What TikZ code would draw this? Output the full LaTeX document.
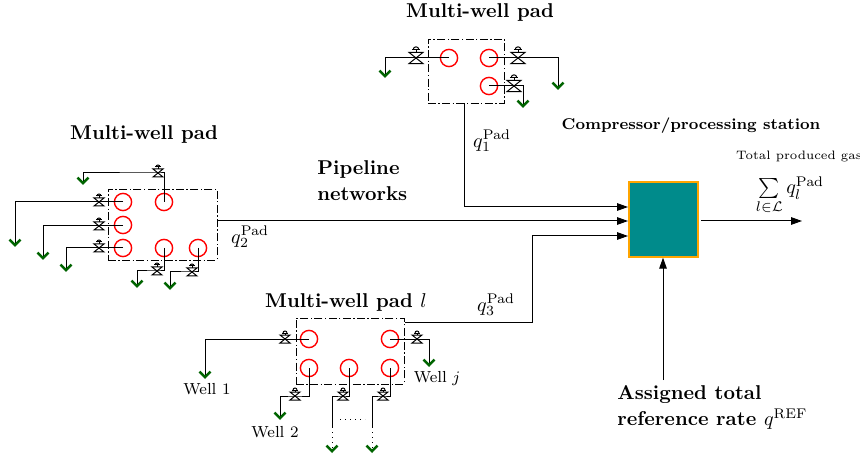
\documentclass[tikz,border=0pt]{standalone}
\usetikzlibrary{arrows.meta}
\definecolor{wellgreen}{RGB}{0,100,0}
\definecolor{stationteal}{RGB}{0,139,139}
\definecolor{stationedge}{RGB}{255,165,0}
\tikzset{
  x=0.5pt,y=-0.5pt,
  padbox/.style={draw,line width=0.45pt,dash pattern=on 4pt off 1.2pt on 0.7pt off 1.2pt,minimum width=0pt,inner sep=0pt},
  wellhead/.style={circle,draw=red,line width=0.7pt,minimum size=8.6pt,inner sep=0pt},
  pipe/.style={line width=0.5pt},
  topipe/.style={pipe,-{Straight Barb[length=2.8pt,width=5.5pt,color=wellgreen,line width=1.25pt]}},
  flow/.style={line width=0.5pt,-{Triangle[length=5.5pt,width=3.8pt]}},
  station/.style={draw=stationedge,fill=stationteal,line width=0.7pt,inner sep=0pt},
  title/.style={font=\bfseries,anchor=center,inner sep=0pt},
  small/.style={font=\fontsize{8}{9.6}\selectfont,inner sep=0pt},
  pics/valve/.style={code={
    \draw[line width=0.5pt] (-5,-4) -- (5,-4) -- (-5,4) -- (5,4) -- cycle;
    \draw[line width=0.5pt] (0,-4) -- (0,-6) (-3,-6) -- (3,-6);
    \draw[line width=0.5pt] (-2,-6) arc[start angle=180,end angle=360,radius=2];
  }}
}
\begin{document}
\begin{tikzpicture}
\useasboundingbox (0,0) rectangle (860,459);

% station
\node[station,minimum width=34.5pt,minimum height=37.5pt] (st) at (663.5,219.5) {};

% pad boxes
\node[padbox,minimum width=38pt,minimum height=32pt] (pad1) at (466,71) {};
\node[padbox,minimum width=54.5pt,minimum height=35.5pt] (pad2) at (162.5,224.5) {};
\node[padbox,minimum width=54pt,minimum height=33pt] (pad3) at (350,351) {};

% wells
\foreach \n/\x/\y in {a1/449/58,a2/489/58,a3/489/86,
  b1/123/202,b2/123/225,b3/123/248,b4/164/202,b5/164/248,b6/198/248,
  c1/309/339,c2/390/339,c3/309/368,c4/349/368,c5/390/368}
  \node[wellhead] (\n) at (\x,\y) {};

% valves and free ends
\foreach \n/\x/\y in {va1/416/58,va2/518/58,va3/514/86,
  vb1/99/202,vb2/99/226,vb3/99/248,vb4/158/173,vb5/157/271,vb6/192/272,
  vc1/285/339,vc2/417/339,vc3/295/396,vc4/343/396,vc5/383/396}
  \coordinate (\n) at (\x,\y);
\foreach \n/\x/\y in {ta1/385/78,ta2/558/90,ta3/523/108,
  tb1/15/247,tb2/43/260,tb3/66/272,tb4/83/185,tb5/137/288,tb6/170/290,
  tc1/205/379,tc2/429/367,tc3/280/420,tc4/332/453,tc5/372/453,
  dc4/332/427,dc5/372/427,dl/340/419,dr/365/419,
  j1/464/207,j3/532/236,s1/628/207,s2/628/221,s3/628/236,
  o1/701/221,o2/802/221,r1/663/380,q3s/405/322,q1s/464/103,q2s/217/221}
  \coordinate (\n) at (\x,\y);

% well lines
\draw[topipe] (a1.center) -| (ta1);
\draw[topipe] (a2.center) -| (ta2);
\draw[topipe] (a3.center) -| (ta3);
\draw[topipe] (b1.center) -| (tb1);
\draw[topipe] (b2.center) ++(0,1) -| (tb2);
\draw[topipe] (b3.center) -| (tb3);
\draw[topipe] (b4.center) |- (vb4) -| (tb4);
\draw[topipe] (b5.center) |- (vb5) -| (tb5);
\draw[topipe] (b6.center) |- (vb6) -| (tb6);
\draw[topipe] (c1.center) -| (tc1);
\draw[topipe] (c2.center) -| (tc2);
\draw[topipe] (c3.center) |- (vc3) -| (tc3);
\draw[pipe] (c4.center) |- (vc4) -| (dc4);
\draw[pipe] (c5.center) |- (vc5) -| (dc5);
\draw[topipe,dotted] (dc4) -- (tc4);
\draw[topipe,dotted] (dc5) -- (tc5);
\draw[pipe,dotted] (dl) -- (dr);

% valves
\foreach \n in {va1,va2,va3} \pic[scale=1.4] at (\n) {valve};
\foreach \n in {vb1,vb2,vb3,vb4,vb5,vb6,vc1,vc2,vc3,vc4,vc5} \pic at (\n) {valve};

% main flows
\draw[flow] (q1s) |- (s1);
\draw[flow] (q2s) -- (s2);
\draw[flow] (q3s) -| (j3) |- (s3);
\draw[flow] (o1) -- (o2);
\draw[flow] (r1) -- (st.south -| r1);

% labels
\node[title] (la) at (480,13) {Multi-well pad};
\node[title] (lb) at (144,135) {Multi-well pad};
\node[title] (lc) at (346,302) {Multi-well pad $l$};
\node[title,font=\fontsize{7.8}{10}\bfseries\selectfont] (ld) at (691,126) {Compressor/processing station};
\node[small,font=\fontsize{6.1}{8}\selectfont] (le) at (799,157) {Total produced gas};
\node[inner sep=0pt] (lf) at (790,196) {$\sum\limits_{l\in\mathcal{L}} q_l^{\mathrm{Pad}}$};
\node[font=\bfseries,align=left,anchor=north west,inner sep=0pt] (lg) at (317,160) {Pipeline\\[1pt]networks};
\node[font=\bfseries,align=left,anchor=north west,inner sep=0pt] (lh) at (617,385) {Assigned total\\[1pt]reference rate \mdseries$q^{\mathrm{REF}}$};
\node[inner sep=0pt] (q1) at (492,141) {$q_1^{\mathrm{Pad}}$};
\node[inner sep=0pt] (q2) at (250,237) {$q_2^{\mathrm{Pad}}$};
\node[inner sep=0pt] (q3) at (496,305) {$q_3^{\mathrm{Pad}}$};
\node[small] (w1) at (207,389) {Well 1};
\node[small] (w2) at (275,432) {Well 2};
\node[small] (wj) at (437,379) {Well $j$};
\end{tikzpicture}
\end{document}
